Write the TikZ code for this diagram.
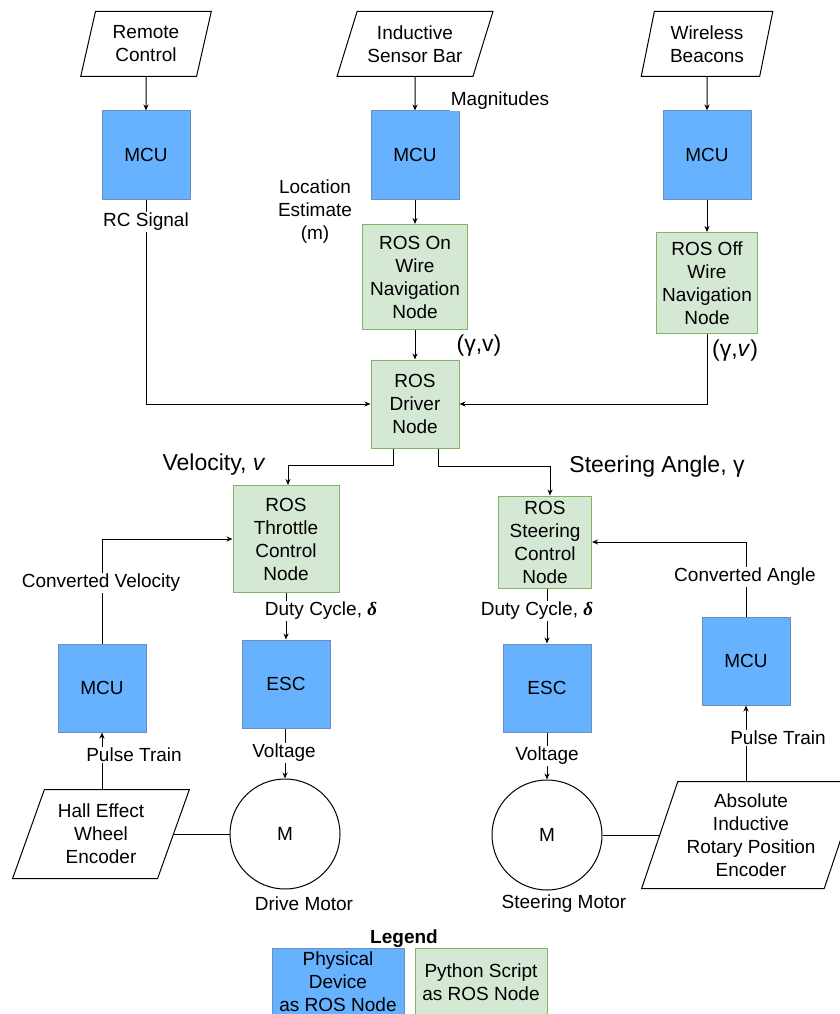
\documentclass[tikz,border=0pt]{standalone}
\usepackage{fontspec}
\setmainfont{Liberation Sans}
\newfontfamily\greekserif{Liberation Serif}
\usetikzlibrary{shapes.geometric,arrows.meta}

\definecolor{devblue}{HTML}{66B2FF}
\definecolor{devline}{HTML}{6C8EBF}
\definecolor{rosgreen}{HTML}{D5E8D4}
\definecolor{rosline}{HTML}{82B366}

\newcommand{\dutysym}{{\greekserif\bfseries\itshape δ}}

\tikzset{
  every node/.style={font=\fontsize{19}{23}\selectfont},
  device/.style={draw=devline, fill=devblue, minimum width=88, minimum height=88, inner sep=0},
  rosbox/.style={draw=rosline, fill=rosgreen, align=center, inner sep=0},
  iobox/.style={draw, trapezium, trapezium stretches=true, align=center, inner sep=0},
  motor/.style={draw, circle, minimum size=110, inner sep=0},
  lbl/.style={fill=white, inner sep=1, align=center},
  biglbl/.style={lbl, font=\fontsize{23}{28}\selectfont},
  wire/.style={line width=1pt, -{Stealth[length=6pt,width=5pt]}},
}

\begin{document}
\begin{tikzpicture}[x=1pt,y=-1pt,line width=1pt]
  \useasboundingbox (0,0) rectangle (839,1014);

  % inputs on top
  \node[iobox, trapezium left angle=75, trapezium right angle=105, minimum width=131, minimum height=65]
    (remote) at (146,44) {Remote\\Control};
  \node[iobox, trapezium left angle=66, trapezium right angle=114, minimum width=156, minimum height=65]
    (sensorbar) at (415,44) {Inductive\\Sensor Bar};
  \node[iobox, trapezium left angle=76, trapezium right angle=104, minimum width=132, minimum height=65]
    (beacons) at (707,44) {Wireless\\Beacons};

  % the three MCUs
  \node[device] (mcuRC) at (146,155) {MCU};
  \node[device] (mcuBar) at (415,155) {MCU};
  \node[device] (mcuBeacon) at (707,155) {MCU};

  % ROS nodes
  \node[rosbox, minimum width=105, minimum height=105] (onwire) at (415,277) {ROS On\\Wire\\Navigation\\Node};
  \node[rosbox, minimum width=101, minimum height=101] (offwire) at (707,283) {ROS Off\\Wire\\Navigation\\Node};
  \node[rosbox, minimum width=88, minimum height=88] (driver) at (415,404) {ROS\\Driver\\Node};
  \node[rosbox, minimum width=106, minimum height=107] (throttle) at (286,539) {ROS\\Throttle\\Control\\Node};
  \node[rosbox, minimum width=93, minimum height=92] (steering) at (545,542) {ROS\\Steering\\Control\\Node};

  % drive side
  \node[device] (mcuWheel) at (102,688) {MCU};
  \node[device] (escDrive) at (286,684) {ESC};
  \node[motor] (driveMotor) at (285,834) {M};
  \node[iobox, trapezium left angle=68, trapezium right angle=112, minimum width=177, minimum height=89]
    (hall) at (101,834) {Hall Effect\\Wheel\\Encoder};

  % steering side
  \node[device] (escSteer) at (547,688) {ESC};
  \node[motor] (steerMotor) at (547,835) {M};
  \node[device] (mcuAngle) at (746,661) {MCU};
  \node[iobox, trapezium left angle=69, trapezium right angle=111, minimum width=219, minimum height=107]
    (absenc) at (751,835) {Absolute\\Inductive\\Rotary Position\\Encoder};

  % connectors
  \draw[wire] (remote.south) -- (mcuRC.north);
  \draw[wire] (sensorbar.south) -- (mcuBar.north);
  \draw[wire] (beacons.south) -- (mcuBeacon.north);
  \draw[wire] (mcuBar.south) -- (onwire.north);
  \draw[wire] (mcuBeacon.south) -- (offwire.north);
  \draw[wire] (onwire.south) -- (driver.north);
  \draw[wire] (mcuRC.south) |- (driver.west);
  \draw[wire] (offwire.south) |- (driver.east);
  \draw[wire] ([xshift=-22pt]driver.south) |- ([xshift=2pt,yshift=20pt]throttle.north) -- ([xshift=2pt]throttle.north);
  \draw[wire] ([xshift=23pt]driver.south) |- ([xshift=5pt,yshift=29pt]steering.north) -- ([xshift=5pt]steering.north);
  \draw[wire] (throttle.south) -- (escDrive.north);
  \draw[wire] (steering.south -| escSteer.north) -- (escSteer.north);
  \draw[wire] (escDrive.south -| driveMotor.north) -- (driveMotor.north);
  \draw[wire] (escSteer.south) -- (steerMotor.north);
  \draw[wire] (mcuWheel.north) |- (throttle.west);
  \draw[wire] (mcuAngle.north) |- (steering.east);
  \draw[wire] (hall.north -| mcuWheel.south) -- (mcuWheel.south);
  \draw[wire] (absenc.north -| mcuAngle.south) -- (mcuAngle.south);
  \draw (hall.right side) -- (driveMotor.west);
  \draw (steerMotor.east) -- (absenc.left side);

  % labels
  \node[lbl] (magLbl) at (500,101) {Magnitudes};
  \node[lbl] (rcLbl) at (146,222) {RC Signal};
  \node[lbl] (locLbl) at (315,212) {Location\\Estimate\\(m)};
  \node[biglbl] (onwireLbl) at (479,346) {(γ,v)};
  \node[biglbl] (offwireLbl) at (735,351) {(γ,\textit{v})};
  \node[biglbl] (velLbl) at (214,465) {Velocity, \textit{v}};
  \node[biglbl] (angLbl) at (657,467) {Steering Angle, γ};
  \node[lbl] (cvelLbl) at (101,583) {Converted Velocity};
  \node[lbl] (cangLbl) at (745,577) {Converted Angle};
  \node[lbl] (dutyA) at (321,611) {Duty Cycle, \dutysym};
  \node[lbl] (dutyB) at (537,611) {Duty Cycle, \dutysym};
  \node[lbl] (pulseA) at (134,755) {Pulse Train};
  \node[lbl] (pulseB) at (778,738) {Pulse Train};
  \node[lbl] (voltA) at (284,753) {Voltage};
  \node[lbl] (voltB) at (547,756) {Voltage};
  \node (driveLbl) at (304,904) {Drive Motor};
  \node (steerLbl) at (564,904) {Steering Motor};

  % legend
  \node (legendLbl) at (404,939) {\bfseries Legend};
  \node[device, minimum width=132, minimum height=67, align=center] (legDevice) at (338,982) {Physical\\Device\\as ROS Node};
  \node[rosbox, minimum width=132, minimum height=67] (legScript) at (481,982) {Python Script\\as ROS Node};
\end{tikzpicture}
\end{document}
